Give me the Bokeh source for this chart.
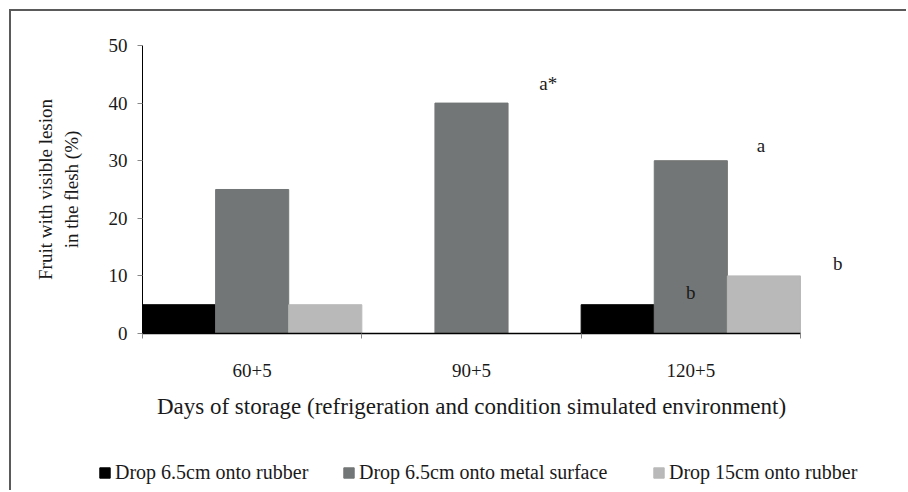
from bokeh.plotting import figure
from bokeh.models import (Range1d, LinearAxis, FixedTicker, Legend, LegendItem,
                          Label, ColumnDataSource)
from bokeh.embed import file_html
from bokeh.resources import INLINE

# ---- data ----
categories = ["60+5", "90+5", "120+5"]
series_names = ["Drop 6.5cm onto rubber", "Drop 6.5cm onto metal surface", "Drop 15cm onto rubber"]
rubber_65 = [5, 0, 5]
metal_65 = [25, 40, 30]
rubber_15 = [5, 0, 10]
y_ticks = [0, 10, 20, 30, 40, 50]
# significance letters (position in category units, value units)
letters = ["a*", "a", "b", "b"]
letter_x = [1.85, 2.82, 2.50, 3.17]
letter_y = [43.4, 32.6, 7.1, 12.2]

colors = ["#000000", "#737676", "#b8b9b8"]
FONT = "Liberation Serif"
TXT = "#1a1a1a"

n = len(categories)
centers = [i + 0.5 for i in range(n)]          # category centres on the category scale
bar_w = 1 / 3
offsets = [-bar_w, 0, bar_w]
src = ColumnDataSource(dict(cat=categories, c=centers, s0=rubber_65, s1=metal_65, s2=rubber_15))

p = figure(x_range=Range1d(-0.5973, 3.4925), y_range=Range1d(-27.6, 55.9),
           width=897, height=481, output_backend="svg", toolbar_location=None,
           x_axis_location=None, y_axis_location=None,
           min_border_left=0, min_border_right=0, min_border_top=0, min_border_bottom=0)
p.styles = {"margin-top": "9px", "margin-left": "9px",
            "border-top": "2px solid #5a5a5a", "border-left": "2px solid #5a5a5a"}
p.outline_line_color = None
p.grid.visible = False
p.background_fill_color = "white"
p.border_fill_color = "white"

renderers = []
for i, key in enumerate(["s0", "s1", "s2"]):
    xs = [c + offsets[i] for c in centers]
    r = p.vbar(x=xs, top=src.data[key], width=bar_w,
               fill_color=colors[i], line_color=colors[i])
    renderers.append(r)

# y axis
ya = LinearAxis(ticker=FixedTicker(ticks=y_ticks), fixed_location=0, bounds=(0, 50))
ya.axis_label = "Fruit with visible lesion\nin the flesh (%)"
ya.axis_label_text_font = FONT
ya.axis_label_text_font_size = "19px"
ya.axis_label_text_font_style = "normal"
ya.axis_label_text_color = TXT
ya.axis_label_standoff = 24
ya.major_label_text_font = FONT
ya.major_label_text_font_size = "19px"
ya.major_label_text_color = TXT
ya.major_label_standoff = 10
ya.major_tick_out = 5
ya.major_tick_in = 0
ya.major_tick_line_color = "#888888"
ya.minor_tick_line_color = None
ya.axis_line_color = "#000000"
p.add_layout(ya, "left")

# x axis with ticks at category boundaries
xa = LinearAxis(ticker=FixedTicker(ticks=centers, minor_ticks=list(range(n + 1))),
                major_label_overrides={c: lab for c, lab in zip(centers, categories)},
                fixed_location=0, bounds=(0, n))
xa.major_tick_line_color = None
xa.minor_tick_out = 5
xa.minor_tick_in = 0
xa.minor_tick_line_color = "#888888"
xa.axis_line_color = "#000000"
xa.axis_line_width = 1.5
xa.major_label_text_font = FONT
xa.major_label_text_font_size = "19px"
xa.major_label_text_color = TXT
xa.major_label_standoff = 24
xa.axis_label = "Days of storage (refrigeration and condition simulated environment)"
xa.axis_label_text_font = FONT
xa.axis_label_text_font_size = "23px"
xa.axis_label_text_font_style = "normal"
xa.axis_label_text_color = TXT
xa.axis_label_standoff = 14
p.add_layout(xa, "below")

for t, lx, ly in zip(letters, letter_x, letter_y):
    p.add_layout(Label(x=lx, y=ly, text=t, text_font=FONT,
                       text_font_size="19px", text_color=TXT,
                       text_align="center", text_baseline="middle"))

legend_x = [87, 331, 641]
for name, r, lx in zip(series_names, renderers, legend_x):
    lg = Legend(items=[LegendItem(label=name, renderers=[r])], location=(lx, 8),
                label_text_font=FONT, label_text_font_size="20px", label_text_color=TXT,
                glyph_width=13, glyph_height=13, label_standoff=4,
                border_line_color=None, background_fill_alpha=0, margin=0, padding=0)
    p.add_layout(lg, "center")

open("out.html", "w").write(file_html(p, INLINE))
